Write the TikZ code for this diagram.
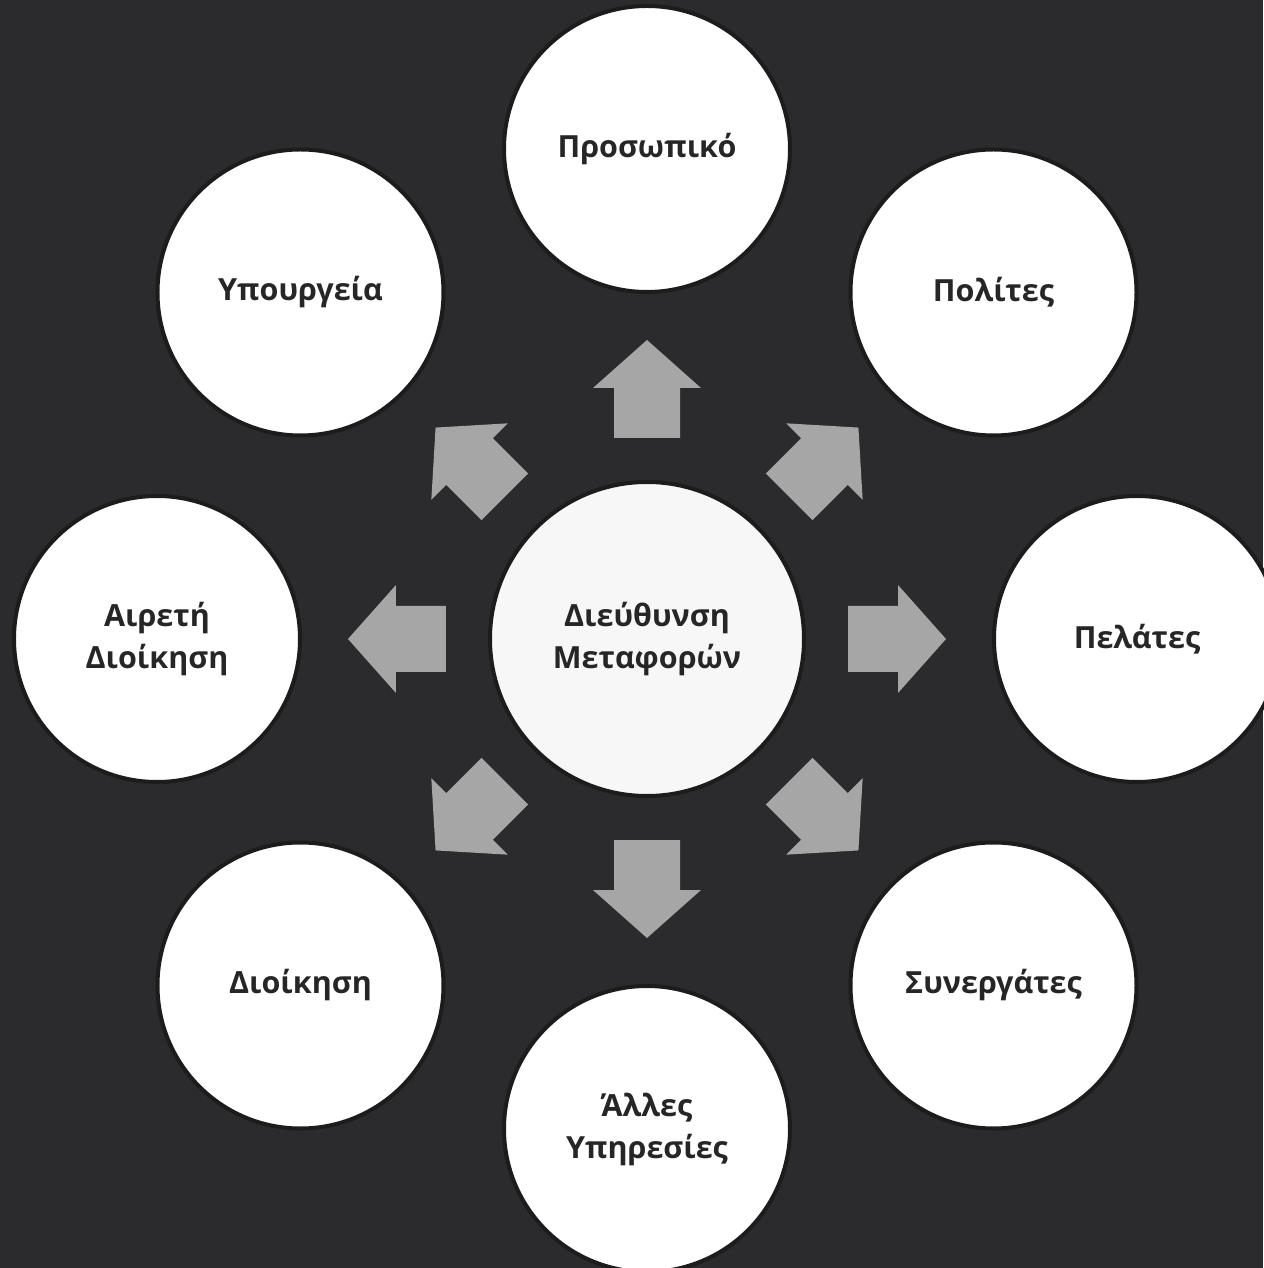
\documentclass[tikz,border=0pt]{standalone}
\usepackage{fontspec}
\setmainfont{Open Sans}
\usepackage{tikz}
\usetikzlibrary{positioning}
\definecolor{bgdark}{HTML}{2B2B2D}
\definecolor{arrowgray}{HTML}{A6A6A6}
\definecolor{rimdark}{HTML}{1C1C1C}
\definecolor{hubfill}{HTML}{F7F7F7}
\definecolor{textdark}{HTML}{262626}

\begin{document}
\begin{tikzpicture}[x=1pt,y=1pt,node distance=490pt,on grid,
  ring node/.style={circle,fill=white,draw=rimdark,line width=4pt,minimum size=286pt,inner sep=0pt,
    align=center,text=textdark,font=\fontsize{30.5}{42}\selectfont\bfseries},
  hub node/.style={ring node,fill=hubfill,minimum size=314pt},
  block arrow/.style={fill=arrowgray}]

  \fill[bgdark] (-647,-629) rectangle (616,639);
  \useasboundingbox (-647,-629) rectangle (616,639);

  \node[hub node] (hub) at (0,0) {Διεύθυνση\\Μεταφορών};
  \node[ring node] (staff) [above=of hub] {Προσωπικό};
  \node[ring node] (citizens) [above right=346.5pt and 346.5pt of hub] {Πολίτες};
  \node[ring node] (clients) [right=of hub] {Πελάτες};
  \node[ring node] (partners) [below right=346.5pt and 346.5pt of hub] {Συνεργάτες};
  \node[ring node] (services) [below=of hub] {Άλλες\\Υπηρεσίες};
  \node[ring node] (admin) [below left=346.5pt and 346.5pt of hub] {Διοίκηση};
  \node[ring node] (elected) [left=of hub] {Αιρετή\\Διοίκηση};
  \node[ring node] (ministry) [above left=346.5pt and 346.5pt of hub] {Υπουργεία};

  % one block arrow per outer circle
  \foreach \ang in {0,45,...,315}
    \fill[block arrow,rotate=\ang] (201,-33) -- (251,-33) -- (251,-54) -- (299,0)
      -- (251,54) -- (251,33) -- (201,33) -- cycle;

\end{tikzpicture}
\end{document}
